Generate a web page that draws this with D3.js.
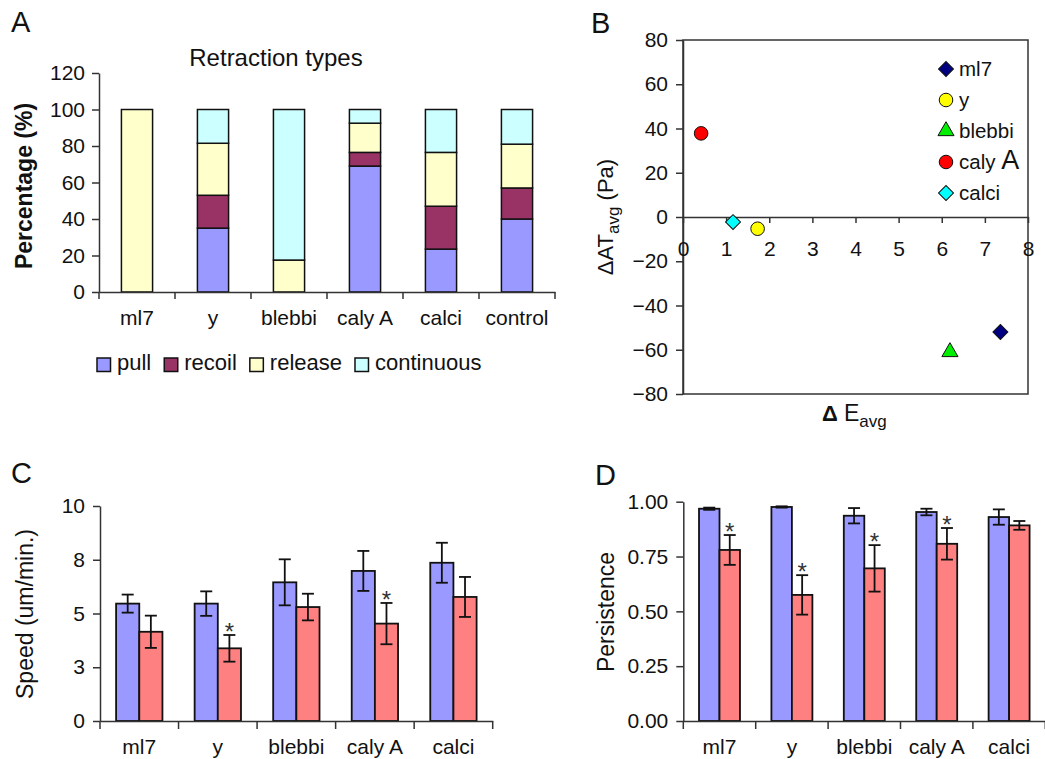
<!DOCTYPE html>
<html lang="en">
<head>
<meta charset="UTF-8">
<title>Retraction types and motility</title>
<script src="https://cdn.jsdelivr.net/npm/d3@7"></script>
<style>
  body{margin:0;background:#fff}
  svg{font-family:"Liberation Sans",Arial,sans-serif}
  .axis path,.axis line{stroke:#333;stroke-width:1.5}
  .axis text{font-size:21px;fill:#111}
</style>
</head>
<body>
<svg id="fig" width="1045" height="759"></svg>
<script>
// panel A data
const retractCats=["ml7","y","blebbi","caly A","calci","control"]
const retractTypes=["pull","recoil","release","continuous"]
const pull=[0,35,0,69,23.5,40]
const recoil=[0,18,0,7.5,23.5,17]
const release=[100,28.5,17.5,16,29.5,24]
const continuous=[0,18.5,82.5,7.5,23.5,19]
const tickA=[0,20,40,60,80,100,120]

// panel B data
const drugs=["ml7","y","blebbi","caly A","calci"]
const dE=[7.36,1.73,6.19,0.42,1.16]
const dAT=[-52,-5.3,-61,37.8,-2.3]
const tickBx=[0,1,2,3,4,5,6,7,8]
const tickBy=[-80,-60,-40,-20,0,20,40,60,80]

// panel C data
const speedBefore=[5.46,5.46,6.45,6.98,7.36]
const speedBeforeErr=[0.42,0.57,1.07,0.93,0.93]
const speedAfter=[4.15,3.38,5.30,4.53,5.77]
const speedAfterErr=[0.75,0.62,0.62,0.96,0.93]
const speedSig=[false,true,false,true,false]
const speedTicks=[0,2.5,5,7.5,10]
const speedTickLabels=["0","3","5","8","10"]

// panel D data
const persBefore=[0.968,0.976,0.936,0.953,0.930]
const persBeforeErr=[0.005,0.003,0.035,0.015,0.035]
const persAfter=[0.78,0.575,0.696,0.808,0.892]
const persAfterErr=[0.068,0.09,0.106,0.072,0.02]
const persSig=[true,true,true,true,false]
const persTicks=[0,0.25,0.5,0.75,1]

const svg=d3.select('#fig')

function panelLabel(t,x,y){
    svg.append('text').attr('x',x).attr('y',y).attr('font-size',29).attr('fill','#111').text(t)
}

// ---------- A ----------
panelLabel('A',11,32)
const xA=d3.scaleBand().domain(retractCats).range([99,555])
const yA=d3.scaleLinear().domain([0,120]).range([292,73])
const colA=d3.scaleOrdinal().domain(retractTypes).range(['#9999ff','#993366','#ffffcc','#ccffff'])
const rowsA=retractCats.map((c,i)=>({cat:c,pull:pull[i],recoil:recoil[i],release:release[i],continuous:continuous[i]}))
const stackA=d3.stack().keys(retractTypes)(rowsA)
const gA=svg.append('g')
gA.selectAll('g.layer').data(stackA).join('g').attr('class','layer').attr('fill',d=>colA(d.key))
    .selectAll('rect').data(d=>d.filter(s=>s[1]-s[0]>0)).join('rect')
    .attr('x',d=>xA(d.data.cat)+xA.bandwidth()*0.295).attr('width',xA.bandwidth()*0.41)
    .attr('y',d=>yA(d[1])).attr('height',d=>yA(d[0])-yA(d[1]))
    .attr('stroke','#111').attr('stroke-width',1.5)
gA.append('g').attr('class','axis').attr('transform','translate(99,0)')
    .call(d3.axisLeft(yA).tickValues(tickA).tickSize(7).tickSizeOuter(0).tickPadding(7))
const axA=gA.append('g').attr('class','axis').attr('transform','translate(0,292)')
    .call(d3.axisBottom(xA).tickSize(0).tickSizeOuter(0).tickPadding(18.5))
axA.selectAll('line.sep').data(d3.range(retractCats.length+1)).join('line').attr('class','sep')
    .attr('x1',i=>xA.range()[0]+i*xA.step()).attr('x2',i=>xA.range()[0]+i*xA.step())
    .attr('y1',0).attr('y2',7)
gA.append('text').attr('x',276).attr('y',66).attr('text-anchor','middle').attr('font-size',24).attr('fill','#111').text('Retraction types')
gA.append('text').attr('transform','translate(32,186) rotate(-90)').attr('text-anchor','middle')
    .attr('font-size',23).attr('font-weight','bold').attr('fill','#111').text('Percentage (%)')
// legend
let lx=97
retractTypes.forEach(k=>{
    gA.append('rect').attr('x',lx).attr('y',358).attr('width',13.5).attr('height',13.5)
        .attr('fill',colA(k)).attr('stroke','#111').attr('stroke-width',1.5)
    const t=gA.append('text').attr('x',lx+20).attr('y',370).attr('font-size',22).attr('fill','#111').text(k)
    lx+=20+t.node().getComputedTextLength()+13
})

// ---------- B ----------
panelLabel('B',591,33)
const xB=d3.scaleLinear().domain([0,8]).range([683,1028])
const yB=d3.scaleLinear().domain([-80,80]).range([394,40])
const gB=svg.append('g')
gB.append('rect').attr('x',xB(0)).attr('y',yB(80)).attr('width',xB(8)-xB(0)).attr('height',yB(-80)-yB(80))
    .attr('fill','none').attr('stroke','#333').attr('stroke-width',1.5)
gB.append('g').attr('class','axis').attr('transform',`translate(${xB(0)},0)`)
    .call(d3.axisLeft(yB).tickValues(tickBy).tickSize(7).tickSizeOuter(0).tickPadding(8))
gB.append('g').attr('class','axis').attr('transform',`translate(0,${yB(0)})`)
    .call(d3.axisBottom(xB).tickValues(tickBx).tickSize(6).tickSizeOuter(0).tickPadding(18))
const shapeB=[d3.symbolSquare,d3.symbolCircle,d3.symbolTriangle,d3.symbolCircle,d3.symbolSquare]
const sizeB=[112,145,112,145,112]
const rotB=[45,0,0,0,45]
const colB=['#000080','#ffff00','#00ee00','#ff0000','#00ffff']
const sym=i=>d3.symbol().type(shapeB[i]).size(sizeB[i])()
gB.selectAll('path.pt').data(drugs).join('path').attr('class','pt')
    .attr('transform',(d,i)=>`translate(${xB(dE[i])},${yB(dAT[i])}) rotate(${rotB[i]})`)
    .attr('d',(d,i)=>sym(i)).attr('fill',(d,i)=>colB[i]).attr('stroke','#111').attr('stroke-width',1)
// legend
drugs.forEach((d,i)=>{
    const cy=69+i*31
    gB.append('path').attr('transform',`translate(946,${cy}) rotate(${rotB[i]})`).attr('d',sym(i))
        .attr('fill',colB[i]).attr('stroke','#111').attr('stroke-width',1)
    const t=gB.append('text').attr('x',959).attr('y',cy+7).attr('font-size',20.5).attr('fill','#111')
    if(d==='caly A'){
        t.text('caly ')
        t.append('tspan').attr('font-size',27).text('A')
    } else t.text(d)
})
const yLabB=gB.append('text').attr('transform','translate(613,217) rotate(-90)').attr('text-anchor','middle')
    .attr('font-size',22).attr('fill','#111')
yLabB.append('tspan').text('\u0394AT')
yLabB.append('tspan').attr('font-size',17).attr('dy',6).text('avg')
yLabB.append('tspan').attr('dy',-6).text(' (Pa)')
const xLabB=gB.append('text').attr('x',822).attr('y',421).attr('font-size',22).attr('fill','#111')
xLabB.append('tspan').attr('font-weight','bold').text('\u0394 ')
xLabB.append('tspan').attr('font-size',23).text('E')
xLabB.append('tspan').attr('font-size',17).attr('dy',6).text('avg')

// ---------- C & D ----------
function barPanel(cfg){
    const g=svg.append('g')
    const x=d3.scaleBand().domain(drugs).range(cfg.xr)
    const y=d3.scaleLinear().domain(cfg.yd).range([721,cfg.ytop])
    const bw=x.bandwidth()*cfg.bar
    const series=[
        {vals:cfg.before,err:cfg.beforeErr,fill:'#9999ff',off:-bw},
        {vals:cfg.after,err:cfg.afterErr,fill:'#ff8080',off:0}
    ]
    series.forEach((s,si)=>{
        const cx=d=>x(d)+x.bandwidth()/2+s.off
        g.selectAll(`rect.s${si}`).data(drugs).join('rect').attr('class',`s${si}`)
            .attr('x',d=>cx(d)).attr('width',bw)
            .attr('y',(d,i)=>y(s.vals[i])).attr('height',(d,i)=>y(0)-y(s.vals[i]))
            .attr('fill',s.fill).attr('stroke','#111').attr('stroke-width',1.8)
        const eb=g.selectAll(`g.e${si}`).data(drugs).join('g').attr('class',`e${si}`)
            .attr('stroke','#111').attr('stroke-width',1.8)
        const mx=d=>cx(d)+bw/2
        eb.append('line').attr('x1',mx).attr('x2',mx)
            .attr('y1',(d,i)=>y(s.vals[i]+s.err[i])).attr('y2',(d,i)=>y(s.vals[i]-s.err[i]))
        eb.append('line').attr('x1',d=>mx(d)-6).attr('x2',d=>mx(d)+6)
            .attr('y1',(d,i)=>y(s.vals[i]+s.err[i])).attr('y2',(d,i)=>y(s.vals[i]+s.err[i]))
        eb.append('line').attr('x1',d=>mx(d)-6).attr('x2',d=>mx(d)+6)
            .attr('y1',(d,i)=>y(s.vals[i]-s.err[i])).attr('y2',(d,i)=>y(s.vals[i]-s.err[i]))
        if(si===1){
            g.selectAll('text.star').data(drugs.filter((d,i)=>cfg.sig[i])).join('text').attr('class','star')
                .attr('x',d=>mx(d)).attr('text-anchor','middle').attr('font-size',24).attr('fill','#333')
                .attr('y',d=>{const i=drugs.indexOf(d);return y(s.vals[i]+s.err[i])+5})
                .text('*')
        }
    })
    g.append('g').attr('class','axis').attr('transform',`translate(${cfg.xr[0]},0)`)
        .call(d3.axisLeft(y).tickValues(cfg.ticks).tickFormat(cfg.fmt).tickSize(7).tickSizeOuter(0).tickPadding(8))
    const ax=g.append('g').attr('class','axis').attr('transform','translate(0,721)')
        .call(d3.axisBottom(x).tickSize(0).tickSizeOuter(0).tickPadding(18.5))
    ax.selectAll('line.sep').data(d3.range(drugs.length+1)).join('line').attr('class','sep')
        .attr('x1',i=>x.range()[0]+i*x.step()).attr('x2',i=>x.range()[0]+i*x.step())
        .attr('y1',0).attr('y2',8)
    g.append('text').attr('transform',`translate(${cfg.labx},${cfg.laby}) rotate(-90)`).attr('text-anchor','middle')
        .attr('font-size',23).attr('fill','#111').text(cfg.label)
}

panelLabel('C',11,483)
barPanel({xr:[100,492.7],yd:[0,10],ytop:506,bar:0.295,before:speedBefore,beforeErr:speedBeforeErr,
    after:speedAfter,afterErr:speedAfterErr,sig:speedSig,ticks:speedTicks,
    fmt:(d,i)=>speedTickLabels[i],label:'Speed (um/min.)',labx:33,laby:614})

panelLabel('D',595,485)
barPanel({xr:[683.3,1045.3],yd:[0,1],ytop:501.7,bar:0.283,before:persBefore,beforeErr:persBeforeErr,
    after:persAfter,afterErr:persAfterErr,sig:persSig,ticks:persTicks,
    fmt:d3.format('.2f'),label:'Persistence',labx:614,laby:612})
</script>
</body>
</html>
